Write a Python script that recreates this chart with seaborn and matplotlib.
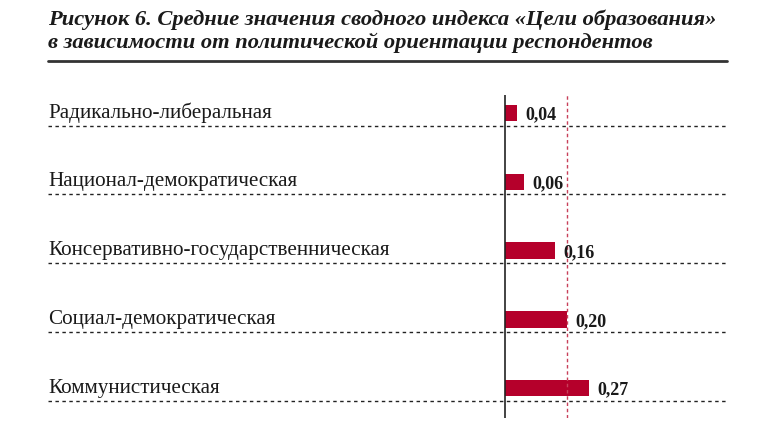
import matplotlib
matplotlib.use("Agg")
import matplotlib.pyplot as plt
from matplotlib.lines import Line2D
import seaborn as sns
import pandas as pd

categories = [
    "Радикально-либеральная",
    "Национал-демократическая",
    "Консервативно-государственническая",
    "Социал-демократическая",
    "Коммунистическая",
]
values = [0.04, 0.06, 0.16, 0.20, 0.27]
value_labels = ["0,04", "0,06", "0,16", "0,20", "0,27"]
reference_value = 0.20
title_lines = [
    "Рисунок 6. Средние значения сводного индекса «Цели образования»",
    "в зависимости от политической ориентации респондентов",
]

sns.set_style("white")
plt.rcParams["font.family"] = ["Liberation Serif", "DejaVu Serif"]

W, H = 771, 434
fig = plt.figure(figsize=(W / 100, H / 100), dpi=100)
ax = fig.add_axes([48 / W, 1 - 418 / H, 679 / W, 323 / H])

df = pd.DataFrame({"cat": categories, "val": values})
sns.barplot(data=df, x="val", y="cat", orient="h", color="#B5002B",
            saturation=1, width=0.24, linewidth=0, ax=ax)

ax.set_xlim(-1.469, 0.714)
ax.set_ylim(4.436, -0.262)
for s in ax.spines.values():
    s.set_visible(False)
ax.set_xticks([])
ax.set_yticks([])
ax.set_xlabel("")
ax.set_ylabel("")

ax.axvline(0, color="#222222", lw=1.2, zorder=3)
ax.axvline(reference_value, color="#C8405A", lw=1, ls=(0, (2.5, 2)), zorder=3)

for i, (c, v, lab) in enumerate(zip(categories, values, value_labels)):
    ax.axhline(i + 0.185, color="#222222", lw=1, ls=(0, (2.5, 2.5)))
    ax.text(-1.469, i, c, ha="left", va="center", fontsize=15.2, color="#1a1a1a")
    ax.text(v + 0.027, i + 0.03, lab, ha="left", va="center", fontsize=13,
            fontweight="bold", color="#1a1a1a")

fig.text(48 / W, 1 - 19.5 / H, title_lines[0], fontsize=16.2, style="italic",
         fontweight="bold", va="center", ha="left", color="#1a1a1a")
fig.text(48 / W, 1 - 42.5 / H, title_lines[1], fontsize=16.2, style="italic",
         fontweight="bold", va="center", ha="left", color="#1a1a1a")
fig.add_artist(Line2D([48 / W, 727 / W], [1 - 61 / H, 1 - 61 / H],
                      transform=fig.transFigure, color="#333333", lw=2.0))

fig.savefig("out.png", dpi=100, facecolor="white")
